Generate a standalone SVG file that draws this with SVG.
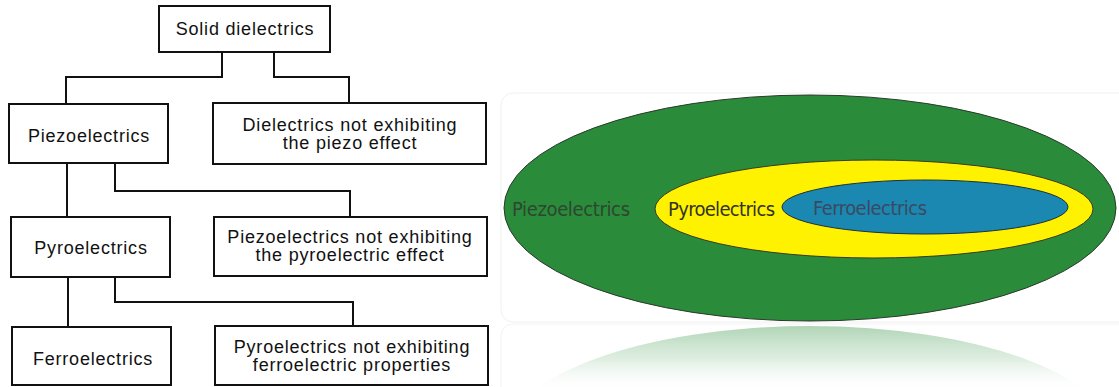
<svg xmlns="http://www.w3.org/2000/svg" width="1119" height="387" viewBox="0 0 1119 387">
  <style>
    .box { fill: #ffffff; stroke: #111111; stroke-width: 2; }
    .wire { fill: none; stroke: #111111; stroke-width: 2; stroke-linejoin: miter; }
    .lbl { font-family: "Liberation Sans", Arial, sans-serif; font-size: 18px; letter-spacing: 0.8px; fill: #111111; text-anchor: middle; }
    .set { font-family: "DejaVu Sans Condensed", "Liberation Sans", sans-serif; font-size: 20px; }
  </style>
  <defs>
    <linearGradient id="mirrorFade" gradientUnits="userSpaceOnUse" x1="0" y1="326" x2="0" y2="392">
      <stop offset="0" stop-color="#9ccaa4" stop-opacity="0.8"/>
      <stop offset="0.5" stop-color="#c4e0c8" stop-opacity="0.55"/>
      <stop offset="1" stop-color="#ffffff" stop-opacity="0"/>
    </linearGradient>
  </defs>

  <rect width="1119" height="387" fill="#ffffff"/>

  <!-- classification tree -->
  <g id="connectors">
    <path class="wire" d="M222,52 V77 H66 V104"/>
    <path class="wire" d="M274,52 V77 H349 V103"/>
    <path class="wire" d="M67,163 V217"/>
    <path class="wire" d="M115,163 V191 H350 V217"/>
    <path class="wire" d="M68,277 V327"/>
    <path class="wire" d="M115,277 V302 H353 V326"/>
  </g>

  <g id="solid-dielectrics">
    <rect class="box" x="159" y="6" width="171" height="46"/>
    <text class="lbl" x="245" y="35">Solid dielectrics</text>
  </g>
  <g id="piezoelectrics">
    <rect class="box" x="9" y="104" width="159" height="59"/>
    <text class="lbl" x="89" y="142">Piezoelectrics</text>
  </g>
  <g id="non-piezo">
    <rect class="box" x="213" y="103" width="273" height="61"/>
    <text class="lbl" x="350" y="131">Dielectrics not exhibiting</text>
    <text class="lbl" x="350" y="149">the piezo effect</text>
  </g>
  <g id="pyroelectrics">
    <rect class="box" x="11" y="217" width="159" height="60"/>
    <text class="lbl" x="91" y="254">Pyroelectrics</text>
  </g>
  <g id="non-pyro">
    <rect class="box" x="214" y="217" width="273" height="59"/>
    <text class="lbl" x="350" y="243">Piezoelectrics not exhibiting</text>
    <text class="lbl" x="350" y="261">the pyroelectric effect</text>
  </g>
  <g id="ferroelectrics">
    <rect class="box" x="12" y="327" width="159" height="58"/>
    <text class="lbl" x="93" y="365">Ferroelectrics</text>
  </g>
  <g id="non-ferro">
    <rect class="box" x="215" y="326" width="273" height="59"/>
    <text class="lbl" x="352" y="353">Pyroelectrics not exhibiting</text>
    <text class="lbl" x="352" y="371">ferroelectric properties</text>
  </g>

  <!-- nested sets -->
  <g id="sets-panel">
    <rect x="501" y="93" width="640" height="229" rx="12" fill="#ffffff" stroke="#f0f0f0" stroke-width="1"/>
    <rect x="501" y="324" width="640" height="80" rx="12" fill="#ffffff" stroke="#f3f3f3" stroke-width="1"/>
    <!-- mirrored lower rim of the outer set -->
    <ellipse cx="810" cy="440" rx="306" ry="114" fill="url(#mirrorFade)"/>
  </g>
  <g id="set-piezo">
    <ellipse cx="810" cy="208" rx="306" ry="113" fill="#2a8c3b" stroke="#2b3a2b" stroke-width="1"/>
    <text class="set" x="512" y="216" textLength="118" fill="#2e4630">Piezoelectrics</text>
  </g>
  <g id="set-pyro">
    <ellipse cx="874" cy="209" rx="219" ry="49" fill="#fff200" stroke="#3a3a20" stroke-width="1"/>
    <text class="set" x="668" y="216" textLength="107" fill="#333322">Pyroelectrics</text>
  </g>
  <g id="set-ferro">
    <ellipse cx="925" cy="207" rx="143" ry="27" fill="#1a88b0" stroke="#1f2f3a" stroke-width="1"/>
    <text class="set" x="813" y="215" textLength="114" fill="#3b4a63">Ferroelectrics</text>
  </g>
</svg>
